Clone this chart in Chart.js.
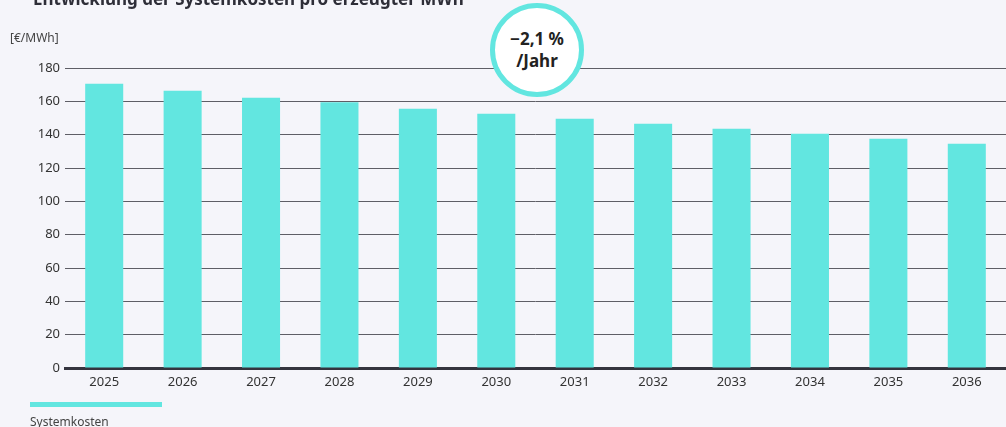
<!DOCTYPE html>
<html>
<head>
<meta charset="utf-8">
<script src="https://cdn.jsdelivr.net/npm/chart.js@4"></script>
<style>
  body { margin: 0; background: #f5f5fa; font-family: "Noto Sans", sans-serif; color: #333; }
  #wrap { position: relative; width: 1006px; height: 427px; overflow: hidden; }
  #chart { position: absolute; left: 0; top: 0; }
  #titel { position: absolute; left: 33px; top: -13px; font-size: 17px; font-weight: bold; color: #2e2e38; white-space: nowrap; }
  #einheit { position: absolute; left: 10px; top: 29px; font-size: 12px; color: #444; }
  #kreis { position: absolute; left: 490px; top: 3px; width: 84px; height: 84px; border: 5px solid #62e6e0; border-radius: 50%; background: #fff;
           display: flex; align-items: center; justify-content: center; text-align: center; font-weight: bold; font-size: 17px; line-height: 22px; color: #222; }
  #legende { position: absolute; left: 30px; top: 402px; }
  #legende .strich { width: 132px; height: 5px; background: #62e6e0; }
  #legende .text { font-size: 12px; color: #444; margin-top: 6px; }
</style>
</head>
<body>
<div id="wrap">
  <canvas id="chart" width="1006" height="427"></canvas>
  <div id="titel">Entwicklung der Systemkosten pro erzeugter MWh</div>
  <div id="einheit">[€/MWh]</div>
  <div id="kreis">−2,1 %<br>/Jahr</div>
  <div id="legende"><div class="strich"></div><div class="text">Systemkosten</div></div>
</div>
<script>
// Daten
const jahre = ["2025", "2026", "2027", "2028", "2029", "2030", "2031", "2032", "2033", "2034", "2035", "2036"];
const systemkosten = [170.5, 166.3, 162.1, 159.4, 155.5, 152.5, 149.5, 146.5, 143.5, 140.5, 137.5, 134.5];
const yTicks = [0, 20, 40, 60, 80, 100, 120, 140, 160, 180];

const ctx = document.getElementById('chart').getContext('2d');
new Chart(ctx, {
  type: 'bar',
  data: {
    labels: jahre,
    datasets: [{
      label: 'Systemkosten',
      data: systemkosten,
      backgroundColor: '#62e6e0',
      borderWidth: 0,
      barPercentage: 0.485,
      categoryPercentage: 1.0
    }]
  },
  options: {
    responsive: false,
    animation: false,
    layout: { padding: { top: 68, right: 0, left: 0, bottom: 0 } },
    plugins: { legend: { display: false }, tooltip: { enabled: false } },
    scales: {
      x: {
        grid: { display: false },
        border: { color: '#34343e', width: 3 },
        ticks: { color: '#333', font: { family: 'Noto Sans', size: 13 }, padding: -2, maxRotation: 0 },
        afterFit: (s) => { s.height = 59; }
      },
      y: {
        min: 0,
        max: 180,
        afterBuildTicks: (s) => { s.ticks = yTicks.map(v => ({ value: v })); },
        grid: { color: '#5e5e66', lineWidth: 1, drawTicks: false },
        border: { display: false },
        ticks: { color: '#333', font: { family: 'Noto Sans', size: 13 }, padding: 5 },
        afterFit: (s) => { s.width = 65; }
      }
    }
  }
});
</script>
</body>
</html>
